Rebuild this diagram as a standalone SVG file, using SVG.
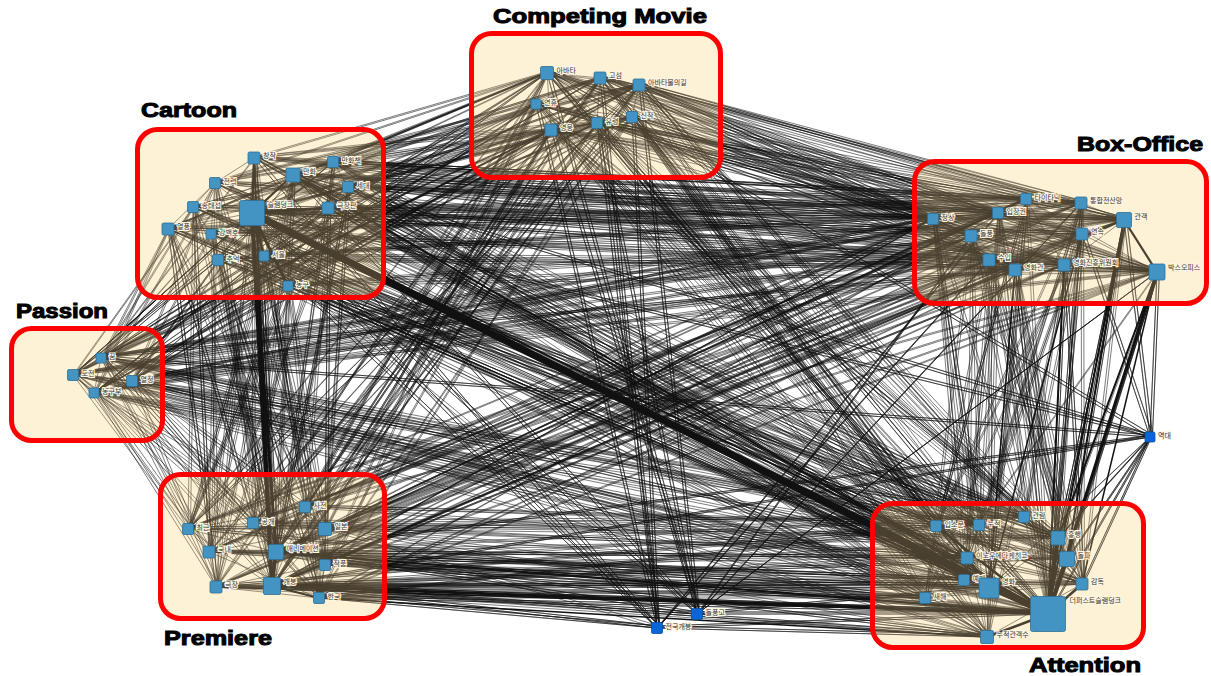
<svg xmlns="http://www.w3.org/2000/svg" xmlns:xlink="http://www.w3.org/1999/xlink" width="1211" height="676" viewBox="0 0 1211 676">
<style>
.n{fill:#4393c3;stroke:#2f6f96;stroke-width:0.8}
.lone{fill:#0a66d8;stroke:#0a4fa0;stroke-width:0.8}
.lb{font-family:"Noto Sans CJK KR","Noto Sans",sans-serif;font-size:7px;fill:#333;stroke:#fff6e4;stroke-width:2.2;paint-order:stroke}
.box{fill:#fdf1d6}
.frame{fill:none;stroke:#ff0000;stroke-width:5}
.title{font-family:"Liberation Sans",Arial,sans-serif;font-weight:bold;font-size:20px;fill:#000;stroke:#000;stroke-width:1}
</style>
<defs>
<clipPath id="boxclip">
<rect x="471.5" y="33.5" width="249" height="144" rx="20"/>
<rect x="137.5" y="129.5" width="246" height="168" rx="20"/>
<rect x="914.5" y="161.5" width="292" height="142" rx="20"/>
<rect x="11.5" y="328.5" width="151" height="112" rx="20"/>
<rect x="160.5" y="474.5" width="224" height="144" rx="20"/>
<rect x="872.5" y="503.5" width="271" height="144" rx="20"/>
</clipPath>
</defs>
<rect width="1211" height="676" fill="#fff"/>
<g id="connectors" stroke="#111" fill="none" stroke-width="0.55" stroke-linejoin="round">
<g id="edges">
<g id="thin">
<path d="M254 158L936 526L333 162L979 525L293 175L1024 517L215 183L1058 538L348 187L1067 559L193 207L967 558L252 213L964 580L328 208L989 588L168 229L1082 584L211 234L925 598L218 260L1048 614L264 256L987 637L288 286L1048 614L254 158L989 588L333 162L1058 538L293 175L1067 559L215 183L1048 614L348 187L989 588L193 207L1048 614L328 208L1048 614L168 229L989 588L211 234L1067 559L218 260L1058 538L264 256L1048 614L288 286L989 588L348 187L987 637L333 162L925 598L293 175L964 580L215 183L1082 584L254 158L1048 614L293 175L979 525L193 207L936 526L328 208L967 558L211 234L1024 517L264 256L1082 584L168 229L1058 538L218 260L964 580L288 286L967 558"/>
<path d="M254 158L1026 199L333 162L1081 203L293 175L933 219L215 183L998 213L348 187L1124 220L193 207L971 236L252 213L1082 234L328 208L989 260L168 229L1015 270L211 234L1064 265L218 260L1157 272L264 256L1124 220L288 286L1157 272L254 158L1124 220L293 175L1157 272L348 187L1064 265L252 213L1157 272L328 208L1124 220L333 162L1157 272L215 183L1015 270L193 207L933 219L168 229L1026 199L211 234L1081 203L218 260L998 213L264 256L989 260L288 286L1082 234L252 213L1124 220L293 175L971 236L254 158L933 219L348 187L1026 199L328 208L1081 203L333 162L998 213"/>
<path d="M254 158L547 73L333 162L600 78L293 175L639 85L215 183L536 104L348 187L551 130L193 207L597 123L252 213L632 117L328 208L547 73L168 229L600 78L211 234L639 85L218 260L536 104L264 256L551 130L288 286L597 123L252 213L547 73L293 175L551 130L254 158L632 117L348 187L639 85L333 162L597 123L215 183L547 73L168 229L551 130L264 256L632 117"/>
<path d="M254 158L305 507L333 162L188 529L293 175L253 523L215 183L325 529L348 187L209 552L193 207L276 552L252 213L325 565L328 208L216 587L168 229L272 586L211 234L319 598L218 260L305 507L264 256L188 529L288 286L253 523L252 213L272 586L293 175L276 552L254 158L272 586L348 187L276 552L333 162L272 586L215 183L209 552L193 207L188 529L328 208L325 529L168 229L216 587L211 234L276 552L218 260L272 586L264 256L319 598L288 286L325 529L252 213L209 552L293 175L216 587L254 158L276 552L348 187L319 598L168 229L253 523"/>
<path d="M254 158L101 358L333 162L73 375L293 175L132 381L215 183L94 393L348 187L101 358L193 207L73 375L252 213L132 381L328 208L94 393L168 229L101 358L211 234L132 381L218 260L73 375L264 256L94 393L288 286L101 358L252 213L73 375"/>
<path d="M547 73L1026 199L600 78L1081 203L639 85L933 219L536 104L998 213L551 130L1124 220L597 123L971 236L632 117L1082 234L547 73L989 260L600 78L1015 270L639 85L1064 265L536 104L1157 272L551 130L1026 199L597 123L1081 203L632 117L933 219L547 73L998 213L600 78L1124 220L639 85L971 236L536 104L1082 234L551 130L989 260L597 123L1015 270L632 117L1064 265L547 73L1157 272L639 85L1124 220L597 123L1157 272L600 78L933 219"/>
<path d="M547 73L936 526L600 78L979 525L639 85L1024 517L536 104L1058 538L551 130L1067 559L597 123L967 558L632 117L964 580L547 73L989 588L600 78L1082 584L639 85L925 598L536 104L1048 614L551 130L987 637L597 123L1048 614L632 117L989 588L547 73L1048 614L600 78L1067 559L639 85L1058 538L551 130L989 588L597 123L936 526L632 117L987 637L536 104L967 558L547 73L1024 517"/>
<path d="M547 73L305 507L600 78L188 529L639 85L253 523L536 104L325 529L551 130L209 552L597 123L276 552L632 117L325 565L547 73L216 587L600 78L272 586L639 85L319 598L536 104L276 552L551 130L272 586L597 123L253 523L632 117L188 529L547 73L276 552L639 85L272 586L551 130L305 507L600 78L325 565"/>
<path d="M547 73L101 358L600 78L73 375L639 85L132 381L536 104L94 393L551 130L101 358L597 123L73 375L632 117L132 381L547 73L94 393L639 85L101 358L551 130L132 381"/>
<path d="M1026 199L936 526L1081 203L979 525L933 219L1024 517L998 213L1058 538L1124 220L1067 559L971 236L967 558L1082 234L964 580L989 260L989 588L1015 270L1082 584L1064 265L925 598L1157 272L1048 614L1124 220L1048 614L1064 265L1048 614L1082 234L1048 614L1081 203L1048 614L1026 199L989 588L933 219L987 637L998 213L1048 614L971 236L1082 584L989 260L1058 538L1015 270L1067 559L1157 272L1058 538L1124 220L1082 584L1064 265L1024 517L1082 234L936 526L1026 199L987 637L1081 203L967 558L933 219L964 580L998 213L979 525L971 236L925 598L989 260L1048 614L1015 270L1048 614L1157 272L1067 559L1124 220L1058 538L1081 203L1082 584"/>
<path d="M1026 199L305 507L1081 203L188 529L933 219L253 523L998 213L325 529L1124 220L209 552L971 236L276 552L1082 234L325 565L989 260L216 587L1015 270L272 586L1064 265L319 598L1157 272L305 507L1026 199L276 552L1081 203L272 586L933 219L209 552L998 213L216 587L1124 220L272 586L971 236L188 529L1082 234L253 523L989 260L325 529L1015 270L276 552L1064 265L272 586L1157 272L276 552L933 219L272 586L1124 220L319 598L1026 199L325 529"/>
<path d="M1026 199L101 358L1081 203L73 375L933 219L132 381L998 213L94 393L1124 220L101 358L971 236L73 375L1082 234L132 381L989 260L94 393L1015 270L101 358L1064 265L73 375L1157 272L132 381L933 219L101 358"/>
<path d="M936 526L305 507L979 525L188 529L1024 517L253 523L1058 538L325 529L1067 559L209 552L967 558L276 552L964 580L325 565L989 588L216 587L1082 584L272 586L925 598L319 598L1048 614L272 586L987 637L276 552L1048 614L319 598L989 588L272 586L1048 614L276 552L964 580L272 586L1048 614L216 587L925 598L325 565L1048 614L325 529L987 637L272 586L1067 559L272 586L1058 538L276 552L1024 517L319 598L979 525L216 587L936 526L325 565L967 558L272 586L1082 584L209 552L1048 614L325 565L989 588L276 552L987 637L216 587L1048 614L188 529L925 598L209 552L964 580L253 523L967 558L305 507"/>
<path d="M936 526L101 358L979 525L73 375L1024 517L132 381L1058 538L94 393L1067 559L101 358L967 558L73 375L964 580L132 381L989 588L94 393L1082 584L101 358L925 598L73 375L1048 614L132 381L987 637L94 393L1048 614L101 358"/>
<path d="M305 507L101 358L188 529L73 375L253 523L132 381L325 529L94 393L209 552L101 358L276 552L73 375L325 565L132 381L216 587L94 393L272 586L101 358L319 598L132 381"/>
<path d="M1150 437L1157 272L1150 437L1124 220L1150 437L1048 614L1150 437L1058 538L1150 437L1082 584L1150 437L252 213L1150 437L272 586L1150 437L1082 234L1150 437L1067 559L1150 437L547 73L1150 437L101 358L1150 437L293 175L1150 437L276 552L1150 437L989 588"/>
<path d="M697 614L547 73L697 614L639 85L697 614L551 130L697 614L252 213L697 614L293 175L697 614L1081 203L697 614L1157 272L697 614L1048 614L697 614L989 588L697 614L272 586L697 614L276 552L697 614L971 236L697 614L597 123L697 614L264 256"/>
<path d="M657 628L600 78L657 628L536 104L657 628L597 123L657 628L254 158L657 628L264 256L657 628L998 213L657 628L989 260L657 628L1048 614L657 628L987 637L657 628L272 586L657 628L319 598L657 628L632 117L657 628L252 213L657 628L325 529"/>
</g>
<use xlink:href="#thin" href="#thin" transform="translate(2.5,-2)"/>
<path d="M254 158L252 213L333 162L328 208L252 213L293 175L348 187L252 213L215 183L193 207L252 213L168 229L211 234L252 213L218 260L264 256L252 213L288 286L328 208L348 187L333 162L293 175L254 158L215 183L168 229L218 260L288 286L264 256L328 208L211 234L193 207L293 175L264 256L254 158L348 187L288 286L211 234L215 183L333 162L193 207L218 260L328 208L168 229L293 175"/>
<path d="M547 73L600 78L639 85L632 117L597 123L551 130L536 104L547 73L597 123L600 78L632 117L551 130L547 73L639 85L597 123L536 104L600 78L551 130L639 85L536 104L632 117L547 73"/>
<path d="M1026 199L1081 203L1124 220L1157 272L1064 265L1082 234L998 213L933 219L971 236L989 260L1015 270L1064 265L1124 220L1082 234L1026 199L998 213L971 236L1015 270L1157 272L1082 234L1081 203L933 219L989 260L1064 265L1026 199L971 236L1124 220L989 260L1157 272L998 213L1015 270L1081 203L1064 265L933 219L1082 234L971 236L1157 272L1026 199L1015 270L1124 220L933 219"/>
<path d="M101 358L73 375L132 381L94 393L101 358L132 381L73 375L94 393"/>
<path d="M305 507L188 529L253 523L325 529L209 552L276 552L325 565L216 587L272 586L319 598L305 507L276 552L188 529L209 552L216 587L276 552L272 586L325 529L325 565L319 598L276 552L253 523L272 586L305 507L325 529L188 529L216 587L319 598L209 552L253 523L325 565L272 586L188 529"/>
<path d="M936 526L979 525L1024 517L1058 538L1067 559L967 558L964 580L989 588L1082 584L925 598L1048 614L987 637L936 526L1048 614L979 525L989 588L1058 538L1048 614L1067 559L1082 584L1048 614L1024 517L967 558L1048 614L964 580L925 598L989 588L987 637L967 558L936 526L1058 538L1082 584L1024 517L1067 559L979 525L964 580L1048 614L989 588L936 526L925 598L987 637L1082 584"/>
<path stroke-width="7" d="M252 213L1048 614"/>
<path stroke-width="2.5" d="M252 213L989 588"/>
<path stroke-width="1.8" d="M293 175L1048 614M252 213L967 558"/>
<path stroke-width="4" d="M252 213L272 586"/>
<path stroke-width="3" d="M252 213L276 552M1157 272L1048 614M272 586L1048 614"/>
<path stroke-width="2" d="M254 158L272 586M1124 220L1048 614M1157 272L1058 538M1124 220L1067 559M1064 265L1048 614M276 552L1048 614"/>
<path stroke-width="1.5" d="M1082 234L989 588M216 587L1048 614M319 598L987 637M1157 272L1082 584M1015 270L989 588"/>
<path stroke-width="3" d="M252 213L328 208M252 213L288 286M272 586L276 552"/>
<path stroke-width="2.2" d="M252 213L254 158M252 213L293 175M252 213L264 256M272 586L319 598M1157 272L1124 220"/>
<path stroke-width="4" d="M1048 614L1058 538M1048 614L1067 559M1048 614L989 588"/>
<path stroke-width="2.5" d="M1048 614L936 526M1048 614L987 637M1048 614L1082 584M989 588L967 558"/>
</g>
</g>
<g id="boxes">
<rect class="box" x="471.5" y="33.5" width="249" height="144" rx="20"/>
<rect class="box" x="137.5" y="129.5" width="246" height="168" rx="20"/>
<rect class="box" x="914.5" y="161.5" width="292" height="142" rx="20"/>
<rect class="box" x="11.5" y="328.5" width="151" height="112" rx="20"/>
<rect class="box" x="160.5" y="474.5" width="224" height="144" rx="20"/>
<rect class="box" x="872.5" y="503.5" width="271" height="144" rx="20"/>
</g>
<use xlink:href="#edges" href="#edges" stroke="#4a4030" fill="none" stroke-width="0.55" stroke-linejoin="round" clip-path="url(#boxclip)"/>
<g id="frames">
<rect class="frame" x="471.5" y="33.5" width="249" height="144" rx="20"/>
<rect class="frame" x="137.5" y="129.5" width="246" height="168" rx="20"/>
<rect class="frame" x="914.5" y="161.5" width="292" height="142" rx="20"/>
<rect class="frame" x="11.5" y="328.5" width="151" height="112" rx="20"/>
<rect class="frame" x="160.5" y="474.5" width="224" height="144" rx="20"/>
<rect class="frame" x="872.5" y="503.5" width="271" height="144" rx="20"/>
</g>
<g id="titles">
<text class="title" x="493" y="23" textLength="214" lengthAdjust="spacingAndGlyphs">Competing Movie</text>
<text class="title" x="141" y="117" textLength="96" lengthAdjust="spacingAndGlyphs">Cartoon</text>
<text class="title" x="1077" y="151" textLength="126" lengthAdjust="spacingAndGlyphs">Box-Office</text>
<text class="title" x="16" y="318" textLength="92" lengthAdjust="spacingAndGlyphs">Passion</text>
<text class="title" x="164" y="645" textLength="108" lengthAdjust="spacingAndGlyphs">Premiere</text>
<text class="title" x="1029" y="672" textLength="112" lengthAdjust="spacingAndGlyphs">Attention</text>
</g>
<g id="nodes">
<g id="n-c1"><rect class="n" x="540.5" y="66.5" width="13" height="13" rx="1.5"/><text class="lb" x="556.5" y="72.5">아바타</text></g>
<g id="n-c2"><rect class="n" x="594" y="72" width="12" height="12" rx="1.5"/><text class="lb" x="609" y="78">고섬</text></g>
<g id="n-c3"><rect class="n" x="633" y="79" width="12" height="12" rx="1.5"/><text class="lb" x="648" y="85">아바타물의길</text></g>
<g id="n-c4"><rect class="n" x="531" y="99" width="10" height="10" rx="1.5"/><text class="lb" x="544" y="105">연휴</text></g>
<g id="n-c5"><rect class="n" x="545" y="124" width="12" height="12" rx="1.5"/><text class="lb" x="560" y="130">영웅</text></g>
<g id="n-c6"><rect class="n" x="591.5" y="117.5" width="11" height="11" rx="1.5"/><text class="lb" x="605.5" y="123.5">유령</text></g>
<g id="n-c7"><rect class="n" x="626.5" y="111.5" width="11" height="11" rx="1.5"/><text class="lb" x="640.5" y="117.5">신작</text></g>
<g id="n-t1"><rect class="n" x="248" y="152" width="12" height="12" rx="1.5"/><text class="lb" x="263" y="158">창작</text></g>
<g id="n-t2"><rect class="n" x="327.5" y="156.5" width="11" height="11" rx="1.5"/><text class="lb" x="341.5" y="162.5">만화책</text></g>
<g id="n-t3"><rect class="n" x="286" y="168" width="14" height="14" rx="1.5"/><text class="lb" x="303" y="174">만화</text></g>
<g id="n-t4"><rect class="n" x="209.5" y="177.5" width="11" height="11" rx="1.5"/><text class="lb" x="223.5" y="183.5">전력</text></g>
<g id="n-t5"><rect class="n" x="342.5" y="181.5" width="11" height="11" rx="1.5"/><text class="lb" x="356.5" y="187.5">세대</text></g>
<g id="n-t6"><rect class="n" x="187.5" y="201.5" width="11" height="11" rx="1.5"/><text class="lb" x="201.5" y="207.5">송태섭</text></g>
<g id="n-t7"><rect class="n" x="239.5" y="200.5" width="25" height="25" rx="2"/><text class="lb" x="267.5" y="206.5">슬램덩크</text></g>
<g id="n-t8"><rect class="n" x="322" y="202" width="12" height="12" rx="1.5"/><text class="lb" x="337" y="208">극장판</text></g>
<g id="n-t9"><rect class="n" x="162" y="223" width="12" height="12" rx="1.5"/><text class="lb" x="177" y="229">열풍</text></g>
<g id="n-t10"><rect class="n" x="206" y="229" width="10" height="10" rx="1.5"/><text class="lb" x="219" y="235">강백호</text></g>
<g id="n-t11"><rect class="n" x="212.5" y="254.5" width="11" height="11" rx="1.5"/><text class="lb" x="226.5" y="260.5">추억</text></g>
<g id="n-t12"><rect class="n" x="259" y="251" width="10" height="10" rx="1.5"/><text class="lb" x="272" y="257">서울</text></g>
<g id="n-t13"><rect class="n" x="283" y="281" width="10" height="10" rx="1.5"/><text class="lb" x="296" y="287">농구</text></g>
<g id="n-b1"><rect class="n" x="1020.5" y="193.5" width="11" height="11" rx="1.5"/><text class="lb" x="1034.5" y="199.5">타이타닉</text></g>
<g id="n-b2"><rect class="n" x="1075" y="197" width="12" height="12" rx="1.5"/><text class="lb" x="1090" y="203">통합전산망</text></g>
<g id="n-b3"><rect class="n" x="927.5" y="213.5" width="11" height="11" rx="1.5"/><text class="lb" x="941.5" y="219.5">정상</text></g>
<g id="n-b4"><rect class="n" x="992.5" y="207.5" width="11" height="11" rx="1.5"/><text class="lb" x="1006.5" y="213.5">입장권</text></g>
<g id="n-b5"><rect class="n" x="1116.5" y="212.5" width="15" height="15" rx="1.5"/><text class="lb" x="1134.5" y="218.5">관객</text></g>
<g id="n-b6"><rect class="n" x="965" y="230" width="12" height="12" rx="1.5"/><text class="lb" x="980" y="236">돌풍</text></g>
<g id="n-b7"><rect class="n" x="1076" y="228" width="12" height="12" rx="1.5"/><text class="lb" x="1091" y="234">연속</text></g>
<g id="n-b8"><rect class="n" x="983" y="254" width="12" height="12" rx="1.5"/><text class="lb" x="998" y="260">수입</text></g>
<g id="n-b9"><rect class="n" x="1009" y="264" width="12" height="12" rx="1.5"/><text class="lb" x="1024" y="270">영화관</text></g>
<g id="n-b10"><rect class="n" x="1058" y="259" width="12" height="12" rx="1.5"/><text class="lb" x="1073" y="265">영화진흥위원회</text></g>
<g id="n-b11"><rect class="n" x="1149" y="264" width="16" height="16" rx="1.5"/><text class="lb" x="1168" y="270">박스오피스</text></g>
<g id="n-p1"><rect class="n" x="96" y="353" width="10" height="10" rx="1.5"/><text class="lb" x="109" y="359">꿈</text></g>
<g id="n-p2"><rect class="n" x="67.5" y="369.5" width="11" height="11" rx="1.5"/><text class="lb" x="81.5" y="375.5">도전</text></g>
<g id="n-p3"><rect class="n" x="126.5" y="375.5" width="11" height="11" rx="1.5"/><text class="lb" x="140.5" y="381.5">열정</text></g>
<g id="n-p4"><rect class="n" x="89" y="388" width="10" height="10" rx="1.5"/><text class="lb" x="102" y="394">농구부</text></g>
<g id="n-r1"><rect class="n" x="299.5" y="501.5" width="11" height="11" rx="1.5"/><text class="lb" x="313.5" y="507.5">사전</text></g>
<g id="n-r2"><rect class="n" x="182.5" y="523.5" width="11" height="11" rx="1.5"/><text class="lb" x="196.5" y="529.5">최근</text></g>
<g id="n-r3"><rect class="n" x="247.5" y="517.5" width="11" height="11" rx="1.5"/><text class="lb" x="261.5" y="523.5">공개</text></g>
<g id="n-r4"><rect class="n" x="318.5" y="522.5" width="13" height="13" rx="1.5"/><text class="lb" x="334.5" y="528.5">일본</text></g>
<g id="n-r5"><rect class="n" x="203" y="546" width="12" height="12" rx="1.5"/><text class="lb" x="218" y="552">국내</text></g>
<g id="n-r6"><rect class="n" x="268.5" y="544.5" width="15" height="15" rx="1.5"/><text class="lb" x="286.5" y="550.5">애니메이션</text></g>
<g id="n-r7"><rect class="n" x="319.5" y="559.5" width="11" height="11" rx="1.5"/><text class="lb" x="333.5" y="565.5">작품</text></g>
<g id="n-r8"><rect class="n" x="210" y="581" width="12" height="12" rx="1.5"/><text class="lb" x="225" y="587">극장</text></g>
<g id="n-r9"><rect class="n" x="263.5" y="577.5" width="17" height="17" rx="1.5"/><text class="lb" x="283.5" y="583.5">개봉</text></g>
<g id="n-r10"><rect class="n" x="313.5" y="592.5" width="11" height="11" rx="1.5"/><text class="lb" x="327.5" y="598.5">한국</text></g>
<g id="n-a1"><rect class="n" x="930.5" y="520.5" width="11" height="11" rx="1.5"/><text class="lb" x="944.5" y="526.5">입소문</text></g>
<g id="n-a2"><rect class="n" x="973.5" y="519.5" width="11" height="11" rx="1.5"/><text class="lb" x="987.5" y="525.5">누적</text></g>
<g id="n-a3"><rect class="n" x="1018.5" y="511.5" width="11" height="11" rx="1.5"/><text class="lb" x="1032.5" y="517.5">관람</text></g>
<g id="n-a4"><rect class="n" x="1051" y="531" width="14" height="14" rx="1.5"/><text class="lb" x="1068" y="537">흥행</text></g>
<g id="n-a5"><rect class="n" x="1059.5" y="551.5" width="15" height="15" rx="1.5"/><text class="lb" x="1077.5" y="557.5">돌파</text></g>
<g id="n-a6"><rect class="n" x="961" y="552" width="12" height="12" rx="1.5"/><text class="lb" x="976" y="558">이노우에다케히코</text></g>
<g id="n-a7"><rect class="n" x="958.5" y="574.5" width="11" height="11" rx="1.5"/><text class="lb" x="972.5" y="580.5">예매</text></g>
<g id="n-a8"><rect class="n" x="979" y="578" width="20" height="20" rx="1.5"/><text class="lb" x="1002" y="584">영화</text></g>
<g id="n-a9"><rect class="n" x="1076" y="578" width="12" height="12" rx="1.5"/><text class="lb" x="1091" y="584">감독</text></g>
<g id="n-a10"><rect class="n" x="919.5" y="592.5" width="11" height="11" rx="1.5"/><text class="lb" x="933.5" y="598.5">새해</text></g>
<g id="n-a11"><rect class="n" x="1030.5" y="596.5" width="35" height="35" rx="2"/><text class="lb" x="1069.5" y="602.5">더퍼스트슬램덩크</text></g>
<g id="n-a12"><rect class="n" x="980.5" y="630.5" width="13" height="13" rx="1.5"/><text class="lb" x="996.5" y="636.5">누적관객수</text></g>
<g id="n-l1"><rect class="lone" x="1145" y="432" width="10" height="10" rx="1.5"/><text class="lb" x="1158" y="438">역대</text></g>
<g id="n-l2"><rect class="lone" x="691.5" y="608.5" width="11" height="11" rx="1.5"/><text class="lb" x="705.5" y="614.5">돌풍고</text></g>
<g id="n-l3"><rect class="lone" x="651.5" y="622.5" width="11" height="11" rx="1.5"/><text class="lb" x="665.5" y="628.5">전국개봉</text></g>
</g>
</svg>
